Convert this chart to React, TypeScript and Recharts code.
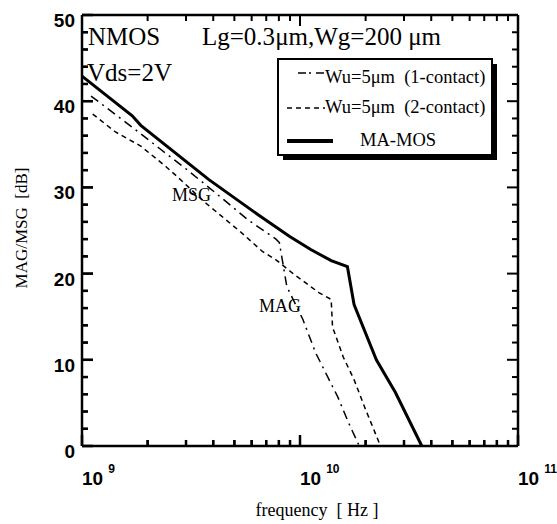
import { LineChart, Line, XAxis, YAxis, ReferenceLine } from 'recharts';

// frequency [Hz] / gain [dB]
const oneContactFreq = [1.1e9, 1.8e9, 2.3e9, 3.05e9, 4.08e9, 5.73e9, 7.76e9, 8.04e9, 8.7e9, 1.03e10, 1.18e10, 1.49e10, 1.67e10, 1.87e10];
const oneContactGain = [40.6, 36.5, 34.4, 32.0, 29.4, 26.3, 24.0, 23.6, 18.5, 14.7, 10.8, 5.7, 2.7, 0];

const twoContactFreq = [1.12e9, 1.43e9, 1.86e9, 2.43e9, 2.72e9, 3.65e9, 5.36e9, 6.7e9, 7.76e9, 9.4e9, 1.22e10, 1.39e10, 1.41e10, 1.58e10, 1.77e10, 1.98e10, 2.34e10];
const twoContactGain = [38.5, 36.4, 34.8, 32.4, 31.3, 28.3, 24.8, 22.6, 21.6, 19.9, 17.8, 17.0, 13.8, 10.3, 7.7, 4.5, 0];

const maMosFreq = [1e9, 1.7e9, 1.86e9, 3.82e9, 6.7e9, 8.97e9, 1.12e10, 1.39e10, 1.65e10, 1.77e10, 2.24e10, 2.74e10, 3.62e10];
const maMosGain = [42.9, 38.3, 37.2, 30.9, 26.5, 24.3, 22.8, 21.5, 20.8, 16.4, 10.0, 6.2, 0];

const xTicks = [
  1e9, 2e9, 3e9, 4e9, 5e9, 6e9, 7e9, 8e9, 9e9,
  1e10, 2e10, 3e10, 4e10, 5e10, 6e10, 7e10, 8e10, 9e10,
  1e11,
];
const xLabelTicks = [1e9, 1e10, 1e11];
const yTicks = [0, 2, 4, 6, 8, 10, 12, 14, 16, 18, 20, 22, 24, 26, 28, 30, 32, 34, 36, 38, 40, 42, 44, 46, 48, 50];
const yLabelTicks = [0, 10, 20, 30, 40, 50];

const seriesNames = ['Wu=5\u03bcm  (1-contact)', 'Wu=5\u03bcm  (2-contact)', 'MA-MOS'];

const toPoints = (f: number[], g: number[]) => f.map((v, i) => ({ f: v, g: g[i] }));

const oneContact = toPoints(oneContactFreq, oneContactGain);
const twoContact = toPoints(twoContactFreq, twoContactGain);
const maMos = toPoints(maMosFreq, maMosGain);

const SANS = 'Liberation Sans, Arial, sans-serif';
const SERIF = 'Liberation Serif, Times New Roman, serif';

const DASH_1 = '9 5 2 5';
const DASH_2 = '5 4';

const X_MIN = 1e9;
const X_MAX = 1e11;
const Y_MIN = 0;
const Y_MAX = 50;

// plot box of the chart (margins + axis sizes below)
const BOX = { left: 82, right: 518, top: 15, bottom: 446 };
const fx = (f: number) =>
  BOX.left + ((Math.log10(f) - Math.log10(X_MIN)) / (Math.log10(X_MAX) - Math.log10(X_MIN))) * (BOX.right - BOX.left);
const fy = (v: number) => BOX.bottom - ((v - Y_MIN) / (Y_MAX - Y_MIN)) * (BOX.bottom - BOX.top);

// inward tick lengths, in data units (about 11px / 6px)
const TICK_DB_MAJOR = 1.28;
const TICK_DB_MINOR = 0.7;
const TICK_F_MAJOR = 1.123;
const TICK_F_MINOR = 1.065;

const isDecade = (v: number) => {
  const l = Math.log10(v);
  return Math.abs(l - Math.round(l)) < 1e-6;
};

const BottomLabel = (props: any) => {
  const { x, y, payload } = props;
  const exp = Math.round(Math.log10(payload.value));
  return (
    <text x={x} y={y + 39} fontFamily={SANS} fontWeight="bold" fontSize={19} fill="#000">
      10
      <tspan dx={5} dy={-12} fontSize={12}>{exp}</tspan>
    </text>
  );
};

const LeftLabel = (props: any) => {
  const { x, y, payload } = props;
  return (
    <text x={x - 7} y={y + 12} textAnchor="end" fontFamily={SANS} fontWeight="bold" fontSize={19} fill="#000">
      {payload.value}
    </text>
  );
};

const tickStyle = { stroke: '#000', strokeWidth: 2.5, ifOverflow: 'visible' as const };

// tick marks on all four sides of the frame
const FrameTicks = () => (
  <g stroke="#000" strokeWidth={2}>
    {xTicks.map((f) => {
      const len = isDecade(f) ? 11 : 6;
      const x = fx(f);
      return (
        <g key={`fx${f}`}>
          <line x1={x} y1={BOX.bottom} x2={x} y2={BOX.bottom - len} />
          <line x1={x} y1={BOX.top} x2={x} y2={BOX.top + len} />
        </g>
      );
    })}
    {yTicks.map((v) => {
      const len = v % 10 === 0 ? 11 : 6;
      const y = fy(v);
      return (
        <g key={`fy${v}`}>
          <line x1={BOX.left} y1={y} x2={BOX.left + len} y2={y} />
          <line x1={BOX.right} y1={y} x2={BOX.right - len} y2={y} />
        </g>
      );
    })}
  </g>
);

export default function App() {
  return (
    <div style={{ position: 'absolute', left: 0, top: 0, width: 557, height: 524, background: '#fff' }}>
      <LineChart width={557} height={524} margin={{ top: 14, right: 38, left: 0, bottom: 0 }}>
        <XAxis
          dataKey="f"
          type="number"
          scale="log"
          domain={[X_MIN, X_MAX]}
          allowDataOverflow
          ticks={xLabelTicks}
          interval={0}
          height={78}
          tickSize={0}
          tickMargin={0}
          tickLine={false}
          tick={<BottomLabel />}
          axisLine={{ stroke: '#000', strokeWidth: 2.5 }}
        />
        <XAxis
          xAxisId="top"
          orientation="top"
          dataKey="f"
          type="number"
          scale="log"
          domain={[X_MIN, X_MAX]}
          allowDataOverflow
          ticks={xLabelTicks}
          height={1}
          tickLine={false}
          tick={false}
          axisLine={{ stroke: '#000', strokeWidth: 2.5 }}
        />
        <YAxis
          type="number"
          domain={[Y_MIN, Y_MAX]}
          ticks={yLabelTicks}
          interval={0}
          width={82}
          tickSize={0}
          tickMargin={0}
          tickLine={false}
          tick={<LeftLabel />}
          axisLine={{ stroke: '#000', strokeWidth: 2.5 }}
        />
        <YAxis
          yAxisId="right"
          orientation="right"
          type="number"
          domain={[Y_MIN, Y_MAX]}
          ticks={yLabelTicks}
          width={1}
          tickLine={false}
          tick={false}
          axisLine={{ stroke: '#000', strokeWidth: 2.5 }}
        />
        {xTicks.map((f) => {
          const len = isDecade(f) ? TICK_DB_MAJOR : TICK_DB_MINOR;
          return (
            <ReferenceLine
              key={`b${f}`}
              segment={[{ x: f, y: Y_MIN }, { x: f, y: Y_MIN + len }]}
              {...tickStyle}
            />
          );
        })}
        {yTicks.map((v) => {
          const k = v % 10 === 0 ? TICK_F_MAJOR : TICK_F_MINOR;
          return (
            <ReferenceLine
              key={`l${v}`}
              segment={[{ x: X_MIN, y: v }, { x: X_MIN * k, y: v }]}
              {...tickStyle}
            />
          );
        })}
        <Line data={oneContact} dataKey="g" name={seriesNames[0]} stroke="#000" strokeWidth={1.5} strokeDasharray={DASH_1} dot={false} isAnimationActive={false} />
        <Line data={twoContact} dataKey="g" name={seriesNames[1]} stroke="#000" strokeWidth={1.5} strokeDasharray={DASH_2} dot={false} isAnimationActive={false} />
        <Line data={maMos} dataKey="g" name={seriesNames[2]} stroke="#000" strokeWidth={3} dot={false} isAnimationActive={false} />
      </LineChart>
      <svg width={557} height={524} style={{ position: 'absolute', left: 0, top: 0, pointerEvents: 'none' }}>
        <FrameTicks />
        <text x={88} y={45} fontFamily={SERIF} fontSize={25} fill="#000">NMOS</text>
        <text x={202} y={45} fontFamily={SERIF} fontSize={25} fill="#000">Lg=0.3{'\u03bc'}m,Wg=200 {'\u03bc'}m</text>
        <text x={87} y={81} fontFamily={SERIF} fontSize={25} fill="#000">Vds=2V</text>
        <text x={172} y={201} fontFamily={SERIF} fontSize={18} fill="#000">MSG</text>
        <text x={259} y={312} fontFamily={SERIF} fontSize={18} fill="#000">MAG</text>
        <text x={317} y={516} textAnchor="middle" fontFamily={SERIF} fontSize={18} fill="#000" xmlSpace="preserve">frequency  [ Hz ]</text>
        <text
          x={27}
          y={228}
          transform="rotate(-90 27 228)"
          textAnchor="middle"
          fontFamily={SERIF}
          fontSize={17}
          fill="#000"
          xmlSpace="preserve"
        >
          MAG/MSG  [dB]
        </text>
        <g transform="translate(277 58)">
          <rect x={6} y={6} width={214} height={96} fill="#000" />
          <rect x={1} y={1} width={214} height={96} fill="#fff" stroke="#000" strokeWidth={2} />
          <line x1={21} y1={15} x2={48} y2={15} stroke="#000" strokeWidth={1.5} strokeDasharray="8 3 2 5" />
          <text x={48} y={25} fontFamily={SERIF} fontSize={18.5} fill="#000" xmlSpace="preserve">{seriesNames[0]}</text>
          <line x1={10} y1={50} x2={48} y2={50} stroke="#000" strokeWidth={1.5} strokeDasharray={DASH_2} />
          <text x={48} y={55} fontFamily={SERIF} fontSize={18.5} fill="#000" xmlSpace="preserve">{seriesNames[1]}</text>
          <line x1={10} y1={83} x2={56} y2={83} stroke="#000" strokeWidth={4} />
          <text x={83} y={88} fontFamily={SERIF} fontSize={18.5} fill="#000">{seriesNames[2]}</text>
        </g>
      </svg>
    </div>
  );
}
